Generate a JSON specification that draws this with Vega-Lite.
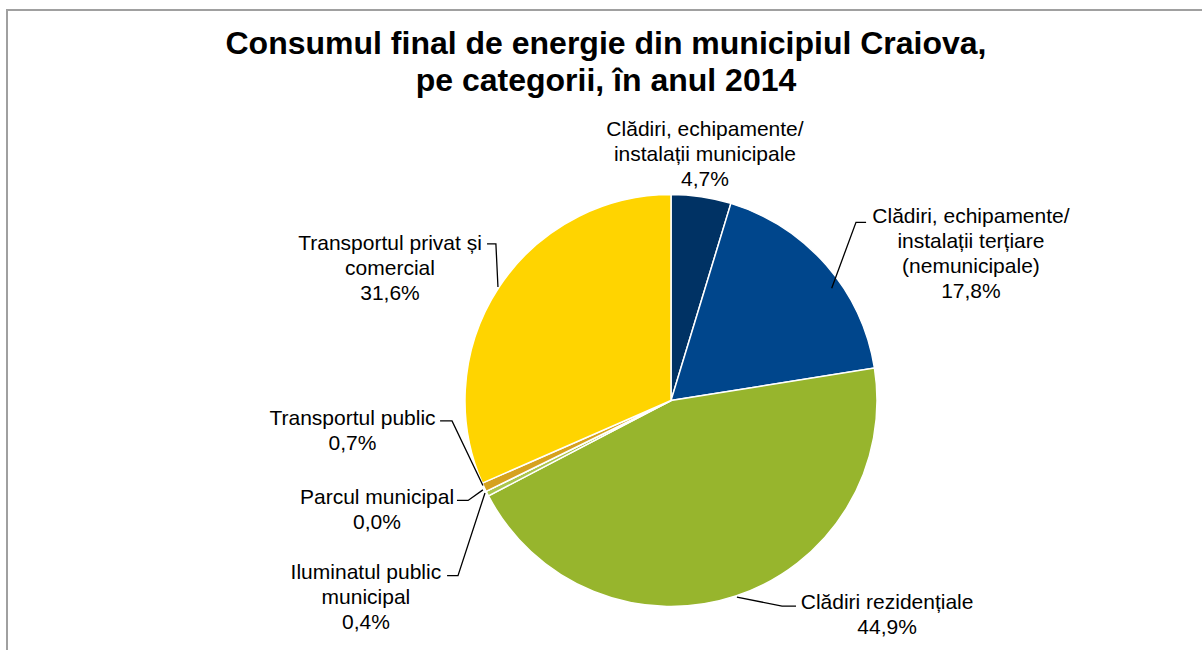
{
  "$schema": "https://vega.github.io/schema/vega-lite/v6.json",
  "width": 1328,
  "height": 781,
  "autosize": {"type": "none"},
  "padding": {"left": 7, "top": 10, "right": 0, "bottom": 0},
  "background": "white",
  "config": {"view": {"stroke": "#a0a0a0", "strokeWidth": 2}, "font": "Liberation Sans"},
  "title": {
    "text": ["Consumul final de energie din municipiul Craiova,", "pe categorii, în anul 2014"],
    "font": "Liberation Sans",
    "fontSize": 32,
    "fontWeight": "bold",
    "lineHeight": 37,
    "color": "black",
    "anchor": "middle",
    "frame": "group",
    "dx": -65,
    "offset": -120,
    "baseline": "bottom"
  },
  "datasets": {
    "slices": [
      {"cat": "Clădiri, echipamente/instalații municipale", "value": 4.7, "order": 1},
      {"cat": "Clădiri, echipamente/instalații terțiare (nemunicipale)", "value": 17.8, "order": 2},
      {"cat": "Clădiri rezidențiale", "value": 44.9, "order": 3},
      {"cat": "Iluminatul public municipal", "value": 0.4, "order": 4},
      {"cat": "Parcul municipal", "value": 0.0, "order": 5},
      {"cat": "Transportul public", "value": 0.7, "order": 6},
      {"cat": "Transportul privat și comercial", "value": 31.6, "order": 7}
    ],
    "labels": [
      {"cat": "Clădiri, echipamente/instalații municipale", "text": "Clădiri, echipamente/\ninstalații municipale\n4,7%", "x": 16.5, "y": 131.3},
      {"cat": "Clădiri, echipamente/instalații terțiare (nemunicipale)", "text": "Clădiri,  echipamente/\ninstalații terțiare\n(nemunicipale)\n17,8%", "x": 145.6, "y": 89.1},
      {"cat": "Clădiri rezidențiale", "text": "Clădiri rezidențiale\n44,9%", "x": 104.9, "y": -98.3},
      {"cat": "Iluminatul public municipal", "text": "Iluminatul  public\nmunicipal\n0,4%", "x": -148.1, "y": -83.5},
      {"cat": "Parcul municipal", "text": "Parcul municipal\n0,0%", "x": -142.7, "y": -47.5},
      {"cat": "Transportul public", "text": "Transportul public\n0,7%", "x": -154.6, "y": -9.0},
      {"cat": "Transportul privat și comercial", "text": "Transportul privat și\ncomercial\n31,6%", "x": -136.4, "y": 76.0}
    ],
    "leaders": [
      {"cat": "terțiare", "i": 1, "x": 78.0, "y": 54.5},
      {"cat": "terțiare", "i": 2, "x": 89.8, "y": 86.5},
      {"cat": "terțiare", "i": 3, "x": 94.7, "y": 86.5},
      {"cat": "rezidențiale", "i": 1, "x": 32.0, "y": -95.4},
      {"cat": "rezidențiale", "i": 2, "x": 53.9, "y": -99.8},
      {"cat": "rezidențiale", "i": 3, "x": 60.7, "y": -99.8},
      {"cat": "iluminat", "i": 1, "x": -90.3, "y": -44.9},
      {"cat": "iluminat", "i": 2, "x": -103.4, "y": -85.0},
      {"cat": "iluminat", "i": 3, "x": -108.7, "y": -85.0},
      {"cat": "parcul", "i": 1, "x": -91.3, "y": -43.4},
      {"cat": "parcul", "i": 2, "x": -98.5, "y": -48.5},
      {"cat": "parcul", "i": 3, "x": -103.9, "y": -48.5},
      {"cat": "transport public", "i": 1, "x": -91.3, "y": -41.3},
      {"cat": "transport public", "i": 2, "x": -106.3, "y": -9.9},
      {"cat": "transport public", "i": 3, "x": -112.1, "y": -9.9},
      {"cat": "privat", "i": 1, "x": -84.0, "y": 55.1},
      {"cat": "privat", "i": 2, "x": -85.0, "y": 76.0},
      {"cat": "privat", "i": 3, "x": -89.3, "y": 76.0}
    ]
  },
  "layer": [
    {
      "data": {"name": "slices"},
      "mark": {"type": "arc", "outerRadius": 206, "stroke": "white", "strokeWidth": 1.5},
      "encoding": {
        "theta": {"field": "value", "type": "quantitative", "stack": true},
        "order": {"field": "order", "type": "quantitative"},
        "color": {
          "field": "cat",
          "type": "nominal",
          "legend": null,
          "scale": {
            "domain": [
              "Clădiri, echipamente/instalații municipale",
              "Clădiri, echipamente/instalații terțiare (nemunicipale)",
              "Clădiri rezidențiale",
              "Iluminatul public municipal",
              "Parcul municipal",
              "Transportul public",
              "Transportul privat și comercial"
            ],
            "range": ["#003264", "#00468C", "#97B52D", "#ABC64C", "#7F9F2A", "#D6A21E", "#FFD400"]
          }
        }
      }
    },
    {
      "data": {"name": "leaders"},
      "mark": {"type": "line", "color": "black", "strokeWidth": 1.3},
      "encoding": {
        "x": {"field": "x", "type": "quantitative", "axis": null, "scale": {"domain": [-322.33, 322.33], "nice": false, "zero": false}},
        "y": {"field": "y", "type": "quantitative", "axis": null, "scale": {"domain": [-189.56, 189.56], "nice": false, "zero": false}},
        "detail": {"field": "cat", "type": "nominal"},
        "order": {"field": "i", "type": "quantitative"}
      }
    },
    {
      "data": {"name": "labels"},
      "mark": {"type": "text", "font": "Liberation Sans", "fontSize": 21, "lineHeight": 25, "lineBreak": "\n", "align": "center", "baseline": "middle", "color": "black"},
      "encoding": {
        "x": {"field": "x", "type": "quantitative", "axis": null, "scale": {"domain": [-322.33, 322.33], "nice": false, "zero": false}},
        "y": {"field": "y", "type": "quantitative", "axis": null, "scale": {"domain": [-189.56, 189.56], "nice": false, "zero": false}},
        "text": {"field": "text", "type": "nominal"}
      }
    }
  ]
}
